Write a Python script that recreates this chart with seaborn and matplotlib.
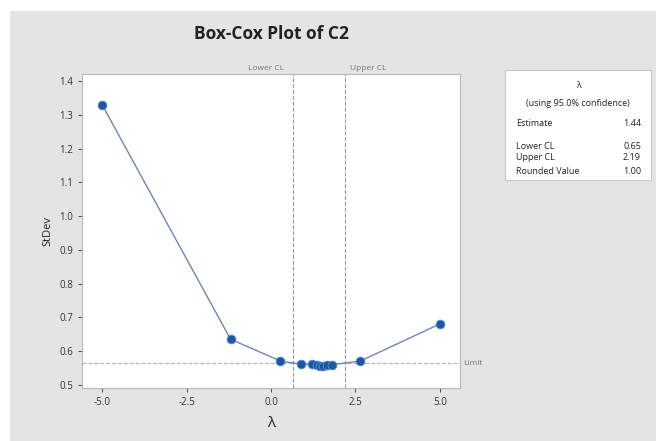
import matplotlib
matplotlib.use('Agg')
import pandas as pd
import seaborn as sns
import matplotlib.pyplot as plt
from matplotlib.patches import Rectangle

# data
lam = [-5.0, -1.2, 0.28, 0.88, 1.2, 1.35, 1.45, 1.55, 1.65, 1.8, 2.65, 5.0]
stdev = [1.33, 0.635, 0.57, 0.561, 0.560, 0.557, 0.556, 0.556, 0.557, 0.559, 0.57, 0.68]
lower_cl = 0.65
upper_cl = 2.19
limit = 0.564
x_ticks = [-5.0, -2.5, 0.0, 2.5, 5.0]
y_ticks = [0.5, 0.6, 0.7, 0.8, 0.9, 1.0, 1.1, 1.2, 1.3, 1.4]
stats_names = ['Estimate', 'Lower CL', 'Upper CL', 'Rounded Value']
stats_values = ['1.44', '0.65', '2.19', '1.00']

df = pd.DataFrame({'lambda': lam, 'stdev': stdev})

sns.set_style('white')
plt.rcParams['font.family'] = ['Open Sans', 'DejaVu Sans']

W, H = 656, 441
fig = plt.figure(figsize=(6.56, 4.41), dpi=100)
fig.patch.set_facecolor('white')
fig.patches.append(Rectangle((10 / W, 0), 1, 1 - 11 / H, transform=fig.transFigure,
                             facecolor='#e4e4e4', edgecolor='none', zorder=-10))

ax = fig.add_axes([82 / W, 1 - 388 / H, 378 / W, 314 / H])
ax.set_facecolor('white')

sns.lineplot(data=df, x='lambda', y='stdev', ax=ax, color='#6f86b0', linewidth=1.0, zorder=2)
sns.scatterplot(data=df, x='lambda', y='stdev', ax=ax, color='#1d57a0', s=40,
                edgecolor='#5b8fd0', linewidth=0.6, zorder=3)

ax.axvline(lower_cl, color='#9a9a9a', linestyle='--', linewidth=0.8, zorder=1)
ax.axvline(upper_cl, color='#9a9a9a', linestyle='--', linewidth=0.8, zorder=1)
ax.axhline(limit, color='#b4b4b4', linestyle='--', linewidth=0.8, zorder=1)

ax.set_xlim(-5.6, 5.6)
ax.set_ylim(0.49, 1.422)
ax.set_xticks(x_ticks)
ax.set_xticklabels([f'{t:.1f}' for t in x_ticks])
ax.set_yticks(y_ticks)
ax.set_yticklabels([f'{t:.1f}' for t in y_ticks])
ax.tick_params(axis='both', labelsize=7, colors='#333333', length=3, width=0.6,
               direction='out', left=True, bottom=True)
for s in ax.spines.values():
    s.set_color('#b8b8b8')
    s.set_linewidth(0.8)

ax.set_xlabel('λ', fontsize=11, color='#222222', labelpad=6)
ax.set_ylabel('StDev', fontsize=8, color='#222222', labelpad=4)

ax.text(lower_cl - 0.25, 1.428, 'Lower CL', ha='right', va='bottom', fontsize=6, color='#777777')
ax.text(upper_cl + 0.15, 1.428, 'Upper CL', ha='left', va='bottom', fontsize=6, color='#777777')
ax.text(5.7, limit, 'Limit', ha='left', va='center', fontsize=6, color='#777777', clip_on=False)

fig.text(271 / W, 1 - 34 / H, 'Box-Cox Plot of C2', ha='center', va='center',
         fontsize=12.5, fontweight='bold', color='#222222')

# stats box
bx0, by0, bx1, by1 = 505, 70, 651, 180
fig.patches.append(Rectangle((bx0 / W, 1 - by1 / H), (bx1 - bx0) / W, (by1 - by0) / H,
                             transform=fig.transFigure, facecolor='white',
                             edgecolor='#c8c8c8', linewidth=0.8))
cx = (bx0 + bx1) / 2 / W
fig.text(cx, 1 - 85 / H, 'λ', ha='center', va='center', fontsize=6.5, color='#222222')
fig.text(cx, 1 - 104 / H, '(using 95.0% confidence)', ha='center', va='center',
         fontsize=6.5, color='#222222')
rows_y = [124, 147, 158, 172]
for name, val, yy in zip(stats_names, stats_values, rows_y):
    fig.text(516 / W, 1 - yy / H, name, ha='left', va='center', fontsize=6.5, color='#222222')
    fig.text(641 / W, 1 - yy / H, val, ha='right', va='center', fontsize=6.5, color='#222222')

fig.savefig('out.png', dpi=100)
